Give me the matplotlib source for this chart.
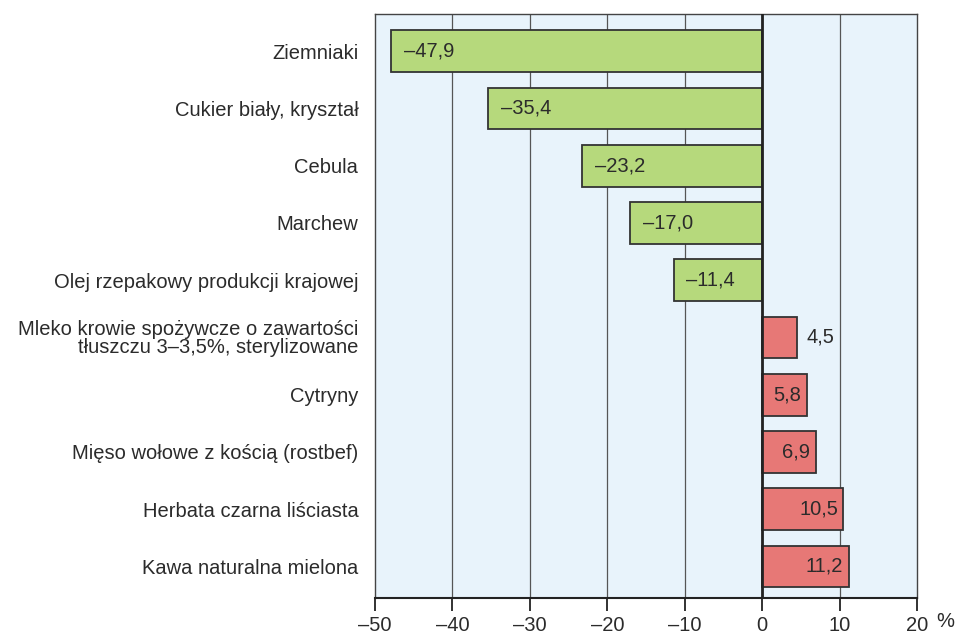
import matplotlib.pyplot as plt

plt.rcParams['font.family'] = ['Liberation Sans', 'DejaVu Sans']

categories = [
    'Ziemniaki',
    'Cukier biały, kryształ',
    'Cebula',
    'Marchew',
    'Olej rzepakowy produkcji krajowej',
    'Mleko krowie spożywcze o zawartości\ntłuszczu 3–3,5%, sterylizowane',
    'Cytryny',
    'Mięso wołowe z kością (rostbef)',
    'Herbata czarna liściasta',
    'Kawa naturalna mielona',
]
values = [-47.9, -35.4, -23.2, -17.0, -11.4, 4.5, 5.8, 6.9, 10.5, 11.2]
ticks = [-50, -40, -30, -20, -10, 0, 10, 20]

green = '#b6d97c'
red = '#e77876'
bg = '#e8f3fb'
txt = '#2b2b2b'
fs = 14.5

fig = plt.figure(figsize=(9.58, 6.35), dpi=100)
ax = fig.add_axes([0.3914, 0.0583, 0.5658, 0.9197])
ax.set_facecolor(bg)

y = list(range(len(categories)))
colors = [green if v < 0 else red for v in values]
ax.barh(y, values, height=0.73, color=colors, edgecolor='#333333',
        linewidth=1.3, zorder=3)

for t in ticks[1:-1]:
    ax.axvline(t, color='#555555', linewidth=0.9, zorder=1)
ax.axvline(0, color='#222222', linewidth=2, zorder=4)

def fmt(v):
    s = ('%.1f' % abs(v)).replace('.', ',')
    return ('–' + s) if v < 0 else s

for i, v in enumerate(values):
    if v < 0:
        ax.annotate(fmt(v), (v, i), xytext=(9, 0), textcoords='offset points',
                    ha='left', va='center', fontsize=fs, color=txt, zorder=5)
    elif v < 5:
        ax.annotate(fmt(v), (v, i), xytext=(7, 0), textcoords='offset points',
                    ha='left', va='center', fontsize=fs, color=txt, zorder=5)
    else:
        ax.annotate(fmt(v), (v, i), xytext=(-4, 0), textcoords='offset points',
                    ha='right', va='center', fontsize=fs, color=txt, zorder=5)

ax.set_xlim(-50, 20)
ax.set_ylim(9.55, -0.65)
ax.set_xticks(ticks)
ax.set_xticklabels([('–%d' % -t) if t < 0 else str(t) for t in ticks],
                   fontsize=fs, color=txt)
ax.set_yticks(y)
ax.set_yticklabels(categories, fontsize=fs, linespacing=0.9, color=txt)
ax.tick_params(axis='y', length=0, pad=12)
ax.tick_params(axis='x', direction='out', length=9, width=1.3, pad=4, color='#222222')

for side in ['top', 'left', 'right']:
    ax.spines[side].set_color('#444444')
    ax.spines[side].set_linewidth(1.0)
ax.spines['bottom'].set_color('#222222')
ax.spines['bottom'].set_linewidth(1.5)

fig.text(0.987, 0.006, '%', fontsize=fs, ha='center', va='bottom', color=txt)

fig.savefig('out.png', dpi=100)
